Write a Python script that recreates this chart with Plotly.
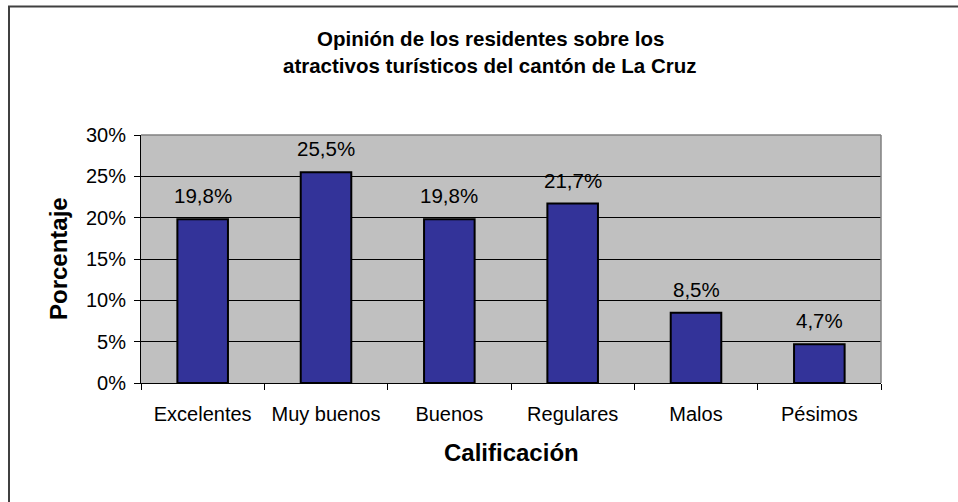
import plotly.graph_objects as go

# Survey results: residents' rating of the tourist attractions
categorias = ["Excelentes", "Muy buenos", "Buenos", "Regulares", "Malos", "Pésimos"]
porcentajes = [19.8, 25.5, 19.8, 21.7, 8.5, 4.7]
titulo_lineas = ["Opinión de los residentes sobre los",
                 "atractivos turísticos del cantón de La Cruz"]
eje_x_titulo = "Calificación"
eje_y_titulo = "Porcentaje"

W, H = 958, 502
L, R, T, B = 141, 77, 135, 119
PW, PH = W - L - R, H - T - B
FONT = "Arial, 'Liberation Sans', sans-serif"


def px_x(px):
    return (px - L) / PW


def px_y(py):
    return (H - B - py) / PH


fig = go.Figure(
    go.Bar(
        x=categorias,
        y=porcentajes,
        marker=dict(color="#333399", line=dict(color="black", width=2)),
        hoverinfo="skip",
    )
)

annotations = []
# value labels above each bar
for c, v in zip(categorias, porcentajes):
    annotations.append(dict(
        x=c, y=v, xref="x", yref="y",
        text=f"{v:.1f}%".replace(".", ","),
        showarrow=False, yanchor="bottom", yshift=10,
        font=dict(family=FONT, size=20.5, color="black"),
    ))
# two-line bold title
for i, line in enumerate(titulo_lineas):
    annotations.append(dict(
        x=px_x(490), y=px_y(38 + 28 * i), xref="paper", yref="paper",
        text=f"<b>{line}</b>", showarrow=False,
        xanchor="center", yanchor="middle",
        font=dict(family=FONT, size=20.5, color="black"),
    ))
# axis titles
annotations.append(dict(
    x=px_x(511), y=px_y(452), xref="paper", yref="paper",
    text=f"<b>{eje_x_titulo}</b>", showarrow=False,
    xanchor="center", yanchor="middle",
    font=dict(family=FONT, size=24, color="black"),
))
annotations.append(dict(
    x=px_x(58), y=px_y(259), xref="paper", yref="paper",
    text=f"<b>{eje_y_titulo}</b>", showarrow=False, textangle=-90,
    xanchor="center", yanchor="middle",
    font=dict(family=FONT, size=24, color="black"),
))

shapes = [
    # outer frame (top and left edges)
    dict(type="line", xref="paper", yref="paper",
         x0=px_x(8), x1=px_x(958), y0=px_y(6.5), y1=px_y(6.5),
         line=dict(color="#404040", width=2)),
    dict(type="line", xref="paper", yref="paper",
         x0=px_x(9), x1=px_x(9), y0=px_y(6), y1=px_y(502),
         line=dict(color="#404040", width=2)),
    # plot area border top and right
    dict(type="line", xref="paper", yref="paper",
         x0=0, x1=1, y0=1, y1=1, line=dict(color="#808080", width=1.5)),
    dict(type="line", xref="paper", yref="paper",
         x0=1, x1=1, y0=0, y1=1, line=dict(color="#808080", width=1.5)),
]

fig.update_layout(
    width=W, height=H,
    margin=dict(l=L, r=R, t=T, b=B, autoexpand=False),
    paper_bgcolor="white",
    plot_bgcolor="#C0C0C0",
    bargap=0.59,
    showlegend=False,
    separators=", ",
    font=dict(family=FONT, size=20, color="black"),
    annotations=annotations,
    shapes=shapes,
    xaxis=dict(
        type="category",
        tickson="boundaries",
        ticks="outside", ticklen=6, tickcolor="black", tickwidth=1,
        showline=True, linecolor="black", linewidth=1,
        showgrid=False,
        ticklabelstandoff=13,
        tickfont=dict(family=FONT, size=20, color="black"),
    ),
    yaxis=dict(
        range=[0, 30], dtick=5, ticksuffix="%",
        ticks="outside", ticklen=6, tickcolor="black", tickwidth=1,
        showline=True, linecolor="black", linewidth=1,
        showgrid=True, gridcolor="black", gridwidth=1,
        zeroline=False,
        ticklabelstandoff=4,
        tickfont=dict(family=FONT, size=20, color="black"),
    ),
)

fig.write_html("out.html")
